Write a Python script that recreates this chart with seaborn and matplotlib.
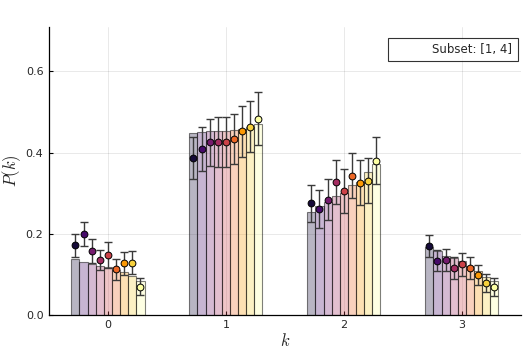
import numpy as np
import pandas as pd
import matplotlib
matplotlib.use('Agg')
import matplotlib.pyplot as plt
import seaborn as sns
from matplotlib.lines import Line2D

# Data
k_values = [0, 1, 2, 3]
series = [f's{i}' for i in range(1, 10)]

bars_k0 = [0.137, 0.130, 0.126, 0.120, 0.117, 0.110, 0.105, 0.096, 0.083]
bars_k1 = [0.448, 0.450, 0.452, 0.454, 0.454, 0.456, 0.458, 0.463, 0.471]
bars_k2 = [0.254, 0.267, 0.278, 0.293, 0.301, 0.320, 0.327, 0.352, 0.372]
bars_k3 = [0.168, 0.156, 0.146, 0.139, 0.133, 0.119, 0.109, 0.094, 0.082]

pts_k0 = [0.171, 0.199, 0.157, 0.135, 0.147, 0.112, 0.127, 0.128, 0.069]
pts_k1 = [0.386, 0.409, 0.425, 0.426, 0.426, 0.433, 0.452, 0.464, 0.483]
pts_k2 = [0.275, 0.261, 0.284, 0.327, 0.305, 0.343, 0.326, 0.331, 0.380]
pts_k3 = [0.170, 0.133, 0.135, 0.115, 0.124, 0.115, 0.098, 0.079, 0.069]

err_k0 = [0.0285, 0.0285, 0.0295, 0.025, 0.0315, 0.026, 0.0285, 0.028, 0.0205]
err_k1 = [0.052, 0.0545, 0.059, 0.062, 0.062, 0.062, 0.063, 0.0635, 0.0655]
err_k2 = [0.0455, 0.046, 0.0505, 0.054, 0.0545, 0.0555, 0.055, 0.056, 0.058]
err_k3 = [0.0275, 0.026, 0.027, 0.0265, 0.0285, 0.0265, 0.0255, 0.0225, 0.022]

legend_label = 'Subset: [1, 4]'

bars = [bars_k0, bars_k1, bars_k2, bars_k3]
pts = [pts_k0, pts_k1, pts_k2, pts_k3]
errs = [err_k0, err_k1, err_k2, err_k3]

rows = []
for k, bv, pv, ev in zip(k_values, bars, pts, errs):
    for s, b, p, e in zip(series, bv, pv, ev):
        rows.append({'k': k, 'series': s, 'bar': b, 'pt': p, 'err': e})
df = pd.DataFrame(rows)

colors = sns.color_palette('inferno', as_cmap=True)(np.linspace(0.1, 1, len(series)))
palette = {s: tuple(c[:3]) for s, c in zip(series, colors)}

sns.set_style('white')
plt.rcParams['mathtext.fontset'] = 'cm'

fig = plt.figure(figsize=(5.32, 3.54), dpi=100)
ax = fig.add_axes([0.092, 0.111, 0.887, 0.813])

group_w = 0.62
sns.barplot(data=df, x='k', y='bar', hue='series', hue_order=series, palette=palette,
            width=group_w, saturation=1, errorbar=None, legend=False, ax=ax, zorder=2)
for p in ax.patches:
    fc = p.get_facecolor()
    p.set_facecolor((fc[0], fc[1], fc[2], 0.3))
    p.set_edgecolor((0, 0, 0, 0.5))
    p.set_linewidth(0.8)

# points with error bars, dodged to match the bars
w = group_w / len(series)
for i, s in enumerate(series):
    sub = df[df['series'] == s]
    xs = sub['k'].to_numpy() + (i - (len(series) - 1) / 2) * w
    _, caps, _ = ax.errorbar(xs, sub['pt'], yerr=sub['err'], fmt='none',
                             ecolor='#3a3a3a', elinewidth=1.0, capsize=2.6,
                             capthick=1.0, zorder=3)
    for c in caps:
        c.set_color(palette[s])
    ax.scatter(xs, sub['pt'], s=24, color=palette[s], edgecolor='black',
               linewidth=0.7, zorder=4)

ax.set_xlim(-0.5, 3.5)
ax.set_ylim(0, 0.71)
ax.set_yticks([0.0, 0.2, 0.4, 0.6])
ax.set_yticklabels(['0.0', '0.2', '0.4', '0.6'])
ax.set_xticks(k_values)
ax.set_xticklabels([str(k) for k in k_values])
ax.grid(True, color='black', alpha=0.1, linewidth=0.6)
ax.set_axisbelow(True)
ax.tick_params(direction='in', length=3, width=0.8, labelsize=8, color='black',
               left=True, bottom=True, pad=4)
for side in ['top', 'right']:
    ax.spines[side].set_visible(False)
for side in ['left', 'bottom']:
    ax.spines[side].set_color('black')
    ax.spines[side].set_linewidth(0.9)
ax.set_xlabel('$k$', fontsize=12, labelpad=1)
ax.set_ylabel('$P(k)$', fontsize=12, labelpad=2)

handle = Line2D([], [], linestyle='none')
leg = ax.legend([handle], [legend_label], loc='upper right', fontsize=8.5,
                frameon=True, fancybox=False, handlelength=3.0, handletextpad=0.3,
                borderpad=0.45, borderaxespad=0, bbox_to_anchor=(0.9936, 0.962))
leg.get_frame().set_edgecolor('black')
leg.get_frame().set_linewidth(0.8)

fig.savefig('out.png', dpi=100)
